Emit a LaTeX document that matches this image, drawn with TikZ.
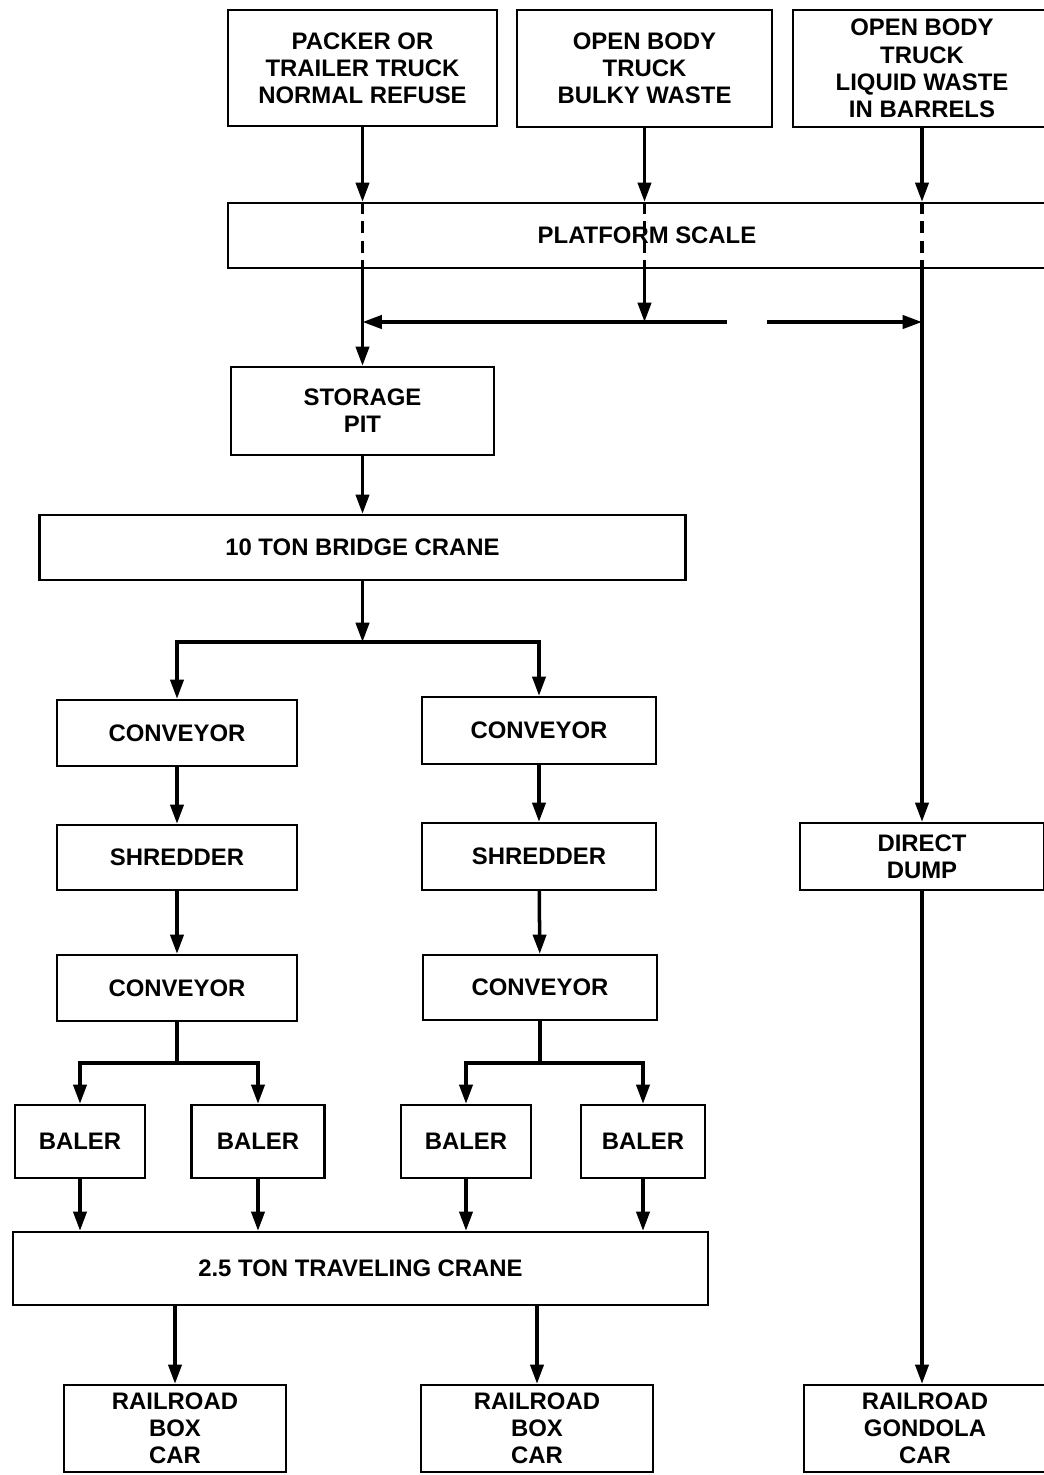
\documentclass[tikz,border=0pt]{standalone}
\usepackage{fontspec}
\setmainfont{Liberation Sans}
\usetikzlibrary{positioning,arrows.meta}

\begin{document}
\begin{tikzpicture}[x=0.02cm, y=-0.02cm,
        block/.style={draw, line width=1.3pt, align=center, inner sep=0pt,
            font=\bfseries\fontsize{13.6}{15.5}\selectfont},
        flow/.style={line width=2pt, -{Triangle[length=11pt, width=7.5pt]}},
        feed/.style={line width=2pt},
        scaleline/.style={line width=2pt, dash pattern=on 7pt off 4pt}]
        \useasboundingbox (0,0) rectangle (1044,1475);
        % incoming trucks
        \node[block, minimum width=5.38cm, minimum height=2.32cm] (packer) at (362.5,68) {PACKER OR\\TRAILER TRUCK\\NORMAL REFUSE};
        \node[block, minimum width=5.10cm, minimum height=2.34cm] (bulky) at (644.5,68.5) {OPEN BODY\\TRUCK\\BULKY WASTE};
        \node[block, minimum width=5.16cm, minimum height=2.34cm] (liquid) at (922,68.5) {OPEN BODY\\TRUCK\\LIQUID WASTE\\IN BARRELS};
        \node[block, minimum width=16.76cm, minimum height=1.30cm] (scale) at (647,235.5) {PLATFORM SCALE};
        % pit and bridge crane
        \node[block, minimum width=5.26cm, minimum height=1.76cm] (pit) at (362.5,411) {STORAGE\\PIT};
        \node[block, minimum width=12.92cm, minimum height=1.30cm] (bridge) at (362.5,547.5) {10 TON BRIDGE CRANE};
        % two processing lines
        \node[block, minimum width=4.80cm, minimum height=1.32cm] (convAL) at (177,733) {CONVEYOR};
        \node[block, minimum width=4.68cm, minimum height=1.34cm] (convAR) at (539,730.5) {CONVEYOR};
        \node[block, minimum width=4.80cm, minimum height=1.30cm] (shredL) at (177,857.5) {SHREDDER};
        \node[block, minimum width=4.68cm, minimum height=1.34cm] (shredR) at (539,856.5) {SHREDDER};
        \node[block, minimum width=4.80cm, minimum height=1.32cm] (convBL) at (177,988) {CONVEYOR};
        \node[block, minimum width=4.68cm, minimum height=1.30cm] (convBR) at (540,987.5) {CONVEYOR};
        \node[block, minimum width=2.60cm, minimum height=1.46cm] (balerA) at (80,1141.5) {BALER};
        \node[block, minimum width=2.66cm, minimum height=1.46cm] (balerB) at (258,1141.5) {BALER};
        \node[block, minimum width=2.60cm, minimum height=1.46cm] (balerC) at (466,1141.5) {BALER};
        \node[block, minimum width=2.48cm, minimum height=1.46cm] (balerD) at (643,1141.5) {BALER};
        \node[block, minimum width=13.90cm, minimum height=1.46cm] (travel) at (360.5,1268.5) {2.5 TON TRAVELING CRANE};
        % rail cars
        \node[block, minimum width=4.44cm, minimum height=1.74cm] (carL) at (175,1428.5) {RAILROAD\\BOX\\CAR};
        \node[block, minimum width=4.64cm, minimum height=1.74cm] (carR) at (537,1428.5) {RAILROAD\\BOX\\CAR};
        \node[block, minimum width=4.88cm, minimum height=1.34cm] (dump) at (922,856.5) {DIRECT\\DUMP};
        \node[block, minimum width=4.84cm, minimum height=1.74cm] (gondola) at (925,1428.5) {RAILROAD\\GONDOLA\\CAR};
        % trucks onto the scale
        \foreach \t in {packer, bulky, liquid} {
            \draw[flow] (\t.south) -- (\t.south |- scale.north);
            \draw[scaleline] (\t.south |- scale.north) -- (\t.south |- scale.south);
        }
        % off the scale
        \coordinate (join) at (bulky.south |- 0,322);
        \coordinate (gapL) at (727,322);
        \coordinate (gapR) at (767,322);
        \draw[flow] (packer.south |- scale.south) -- (pit);
        \draw[flow] (bulky.south |- scale.south) -- (join);
        \draw[flow] (join) -- (join -| pit.north);
        \draw[feed] (join) -- (gapL);
        \draw[flow] (gapR) -- (gapR -| liquid.south);
        \draw[flow] (liquid.south |- scale.south) -- (dump);
        % crane to the lines
        \coordinate (splitA) at (bridge.south |- 0,642);
        \draw[flow] (pit) -- (bridge);
        \draw[flow] (bridge) -- (splitA);
        \draw[flow] (splitA) -| (convAL);
        \draw[flow] (splitA) -| (convAR);
        \draw[flow] (convAL) -- (shredL);
        \draw[flow] (shredL) -- (convBL);
        \draw[flow] (convAR) -- (shredR);
        \draw[flow] (shredR) -- (convBR);
        % balers
        \coordinate (splitL) at (convBL.south |- 0,1063);
        \coordinate (splitR) at (convBR.south |- 0,1063);
        \draw[feed] (convBL) -- (splitL);
        \draw[feed] (convBR) -- (splitR);
        \draw[flow] (splitL) -| (balerA);
        \draw[flow] (splitL) -| (balerB);
        \draw[flow] (splitR) -| (balerC);
        \draw[flow] (splitR) -| (balerD);
        \foreach \b in {balerA, balerB, balerC, balerD}
            \draw[flow] (\b) -- (\b |- travel.north);
        % loading the cars
        \draw[flow] (carL |- travel.south) -- (carL);
        \draw[flow] (carR |- travel.south) -- (carR);
        \draw[flow] (dump) -- (dump |- gondola.north);
    \end{tikzpicture}
\end{document}
